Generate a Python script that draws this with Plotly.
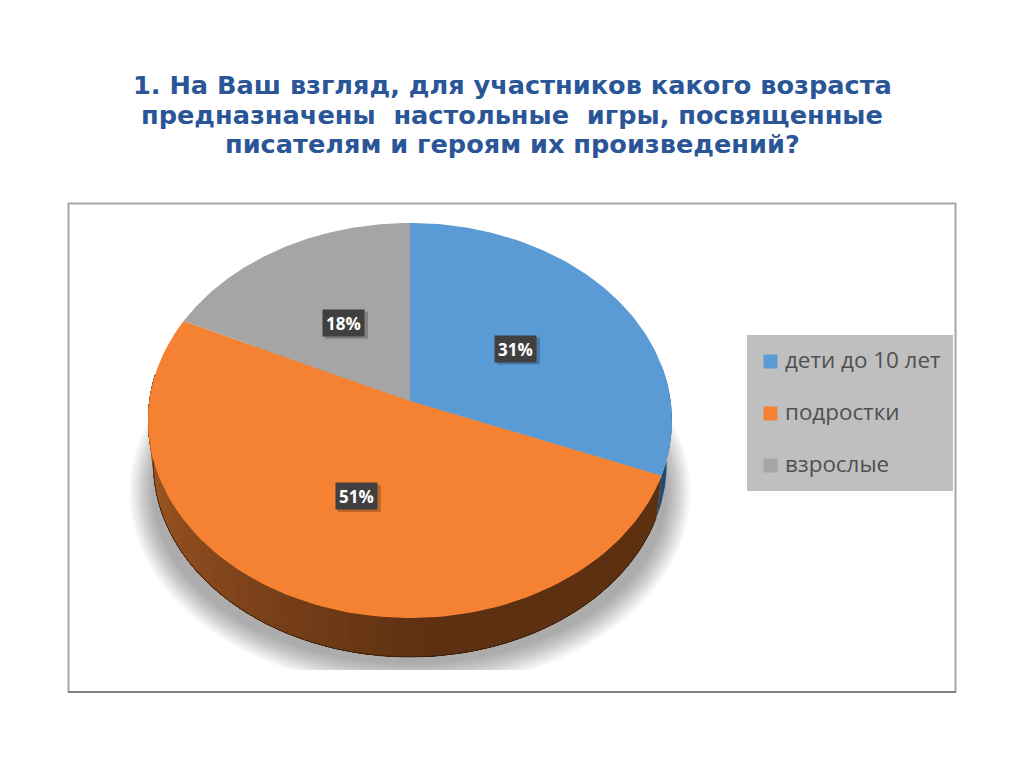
import numpy as np
import plotly.graph_objects as go

# ---- data ----
categories = ["дети до 10 лет", "подростки", "взрослые"]
shares = [31, 51, 18]
value_labels = ["31%", "51%", "18%"]
top_colors = ["#5b9bd5", "#f58132", "#a5a5a5"]
title_lines = [
    "1. На Ваш взгляд, для участников какого возраста",
    "предназначены  настольные  игры, посвященные",
    "писателям и героям их произведений?",
]

# ---- geometry of the tilted disc (page pixels) ----
CX, CY = 410.0, 401.0
AX, BY, K = 260.7, 195.6, 0.0987
SHRINK, DROP = 0.98, 43.3


def project(theta, r=1.0):
    x = r * np.sin(theta)
    y = r * np.cos(theta)
    w = 1 + K * y
    return CX + AX * x / w, CY - BY * y / w


def lower(theta):
    x, y = project(theta)
    return CX + (x - CX) * SHRINK, CY + DROP + (y - CY) * SHRINK


def mix(c1, c2, t):
    return "rgb(%d,%d,%d)" % tuple(round(a + (b - a) * t) for a, b in zip(c1, c2))


fig = go.Figure()
total = sum(shares)
bounds = np.cumsum([0] + shares) / total * 2 * np.pi

# soft shadow under the disc
layers = 18
for i in range(layers):
    t = i / (layers - 1)
    a = 281 - 24 * t
    b = 198 - 26 * t
    phi = np.linspace(0, 2 * np.pi, 181)
    fig.add_trace(go.Scatter(
        x=410 + a * np.cos(phi),
        y=np.minimum(492 + b * np.sin(phi), 670),
        mode="lines", line=dict(width=0), fill="toself",
        fillcolor="rgba(0,0,0,0.018)", hoverinfo="skip", showlegend=False))

# side wall: blue sliver, then orange strips shaded from dark to lighter.
# Each strip runs on to the end of its slice, so later strips paint over
# earlier ones and no seams of background show through.
dark_side = {0: ((30, 75, 120), (30, 75, 120)), 1: ((93, 48, 18), (172, 94, 38))}
for idx in (0, 1):
    start = max(bounds[idx], np.radians(80))
    end = min(bounds[idx + 1], np.radians(278))
    strips = 1 if idx == 0 else 70
    edges = np.linspace(start, end, strips + 1)
    for s in range(strips):
        th = np.linspace(edges[s], end, max(8, 90 - s))
        xt, yt = project(th)
        xb, yb = lower(th)
        mid = (edges[s] + edges[s + 1]) / 2
        frac = np.clip((np.degrees(mid) - 175) / (275 - 175), 0, 1)
        col = mix(*dark_side[idx], frac)
        fig.add_trace(go.Scatter(
            x=np.r_[xt, xb[::-1]], y=np.r_[yt, yb[::-1]],
            mode="lines", line=dict(width=0), fill="toself",
            fillcolor=col, hoverinfo="skip", showlegend=False))

# thin dark lower edge of the wall
th = np.linspace(np.radians(112), np.radians(278), 160)
xb, yb = lower(th)
fig.add_trace(go.Scatter(x=xb, y=yb, mode="lines",
                         line=dict(width=1, color="rgba(50,25,10,0.75)"),
                         hoverinfo="skip", showlegend=False))

# top face
for i, cat in enumerate(categories):
    th = np.linspace(bounds[i], bounds[i + 1], 120)
    xr, yr = project(th)
    fig.add_trace(go.Scatter(
        x=np.r_[CX, xr, CX], y=np.r_[CY, yr, CY],
        mode="lines", line=dict(width=0), fill="toself",
        fillcolor=top_colors[i], name=cat, hoverinfo="name", showlegend=False))

shapes = [
    dict(type="rect", x0=68.5, y0=203.5, x1=955.5, y1=692,
         line=dict(color="#a6a6a6", width=2), fillcolor="rgba(0,0,0,0)", layer="below"),
    dict(type="line", x0=68, y0=692, x1=956, y1=692,
         line=dict(color="#757575", width=1.5), layer="below"),
    dict(type="rect", x0=747, y0=335, x1=953, y1=491,
         line=dict(width=0), fillcolor="#bfbfbf", layer="below"),
]
annotations = []

# value labels, centred half way along each slice
for i, lab in enumerate(value_labels):
    lx, ly = project((bounds[i] + bounds[i + 1]) / 2, 0.5)
    lx, ly = float(lx) + 1, float(ly) + 1
    shapes.append(dict(type="rect", x0=lx - 19, y0=ly - 11, x1=lx + 24, y1=ly + 16,
                       line=dict(width=0), fillcolor="rgba(0,0,0,0.22)", layer="above"))
    annotations.append(dict(
        x=lx, y=ly, xref="x", yref="y", text="<b>%s</b>" % lab, showarrow=False,
        width=41, height=26, bgcolor="#404040", borderpad=0,
        font=dict(family="Open Sans", size=17, color="white")))

# legend
for i, cat in enumerate(categories):
    ry = 361.5 + 52 * i
    shapes.append(dict(type="rect", x0=763.5, y0=ry - 7, x1=777.5, y1=ry + 7,
                       line=dict(width=0), fillcolor=top_colors[i], layer="above"))
    annotations.append(dict(
        x=783, y=ry - 2, xref="x", yref="y", text=cat, showarrow=False, xanchor="left",
        font=dict(family="Open Sans", size=22.4, color="#505050")))

# title
for i, line in enumerate(title_lines):
    annotations.append(dict(
        x=512, y=85 + 29.5 * i, xref="x", yref="y", text="<b>%s</b>" % line,
        showarrow=False, font=dict(family="DejaVu Sans", size=25.6, color="#2a5597")))

# the page keeps an 8 px margin, so the figure starts at pixel (8, 8)
fig.update_layout(
    width=1016, height=759, margin=dict(l=0, r=0, t=0, b=0),
    paper_bgcolor="white", plot_bgcolor="white",
    xaxis=dict(range=[8, 1024], visible=False, fixedrange=True),
    yaxis=dict(range=[767, 8], visible=False, fixedrange=True),
    shapes=shapes, annotations=annotations, showlegend=False,
)
fig.write_html("out.html", config={"displayModeBar": False})
